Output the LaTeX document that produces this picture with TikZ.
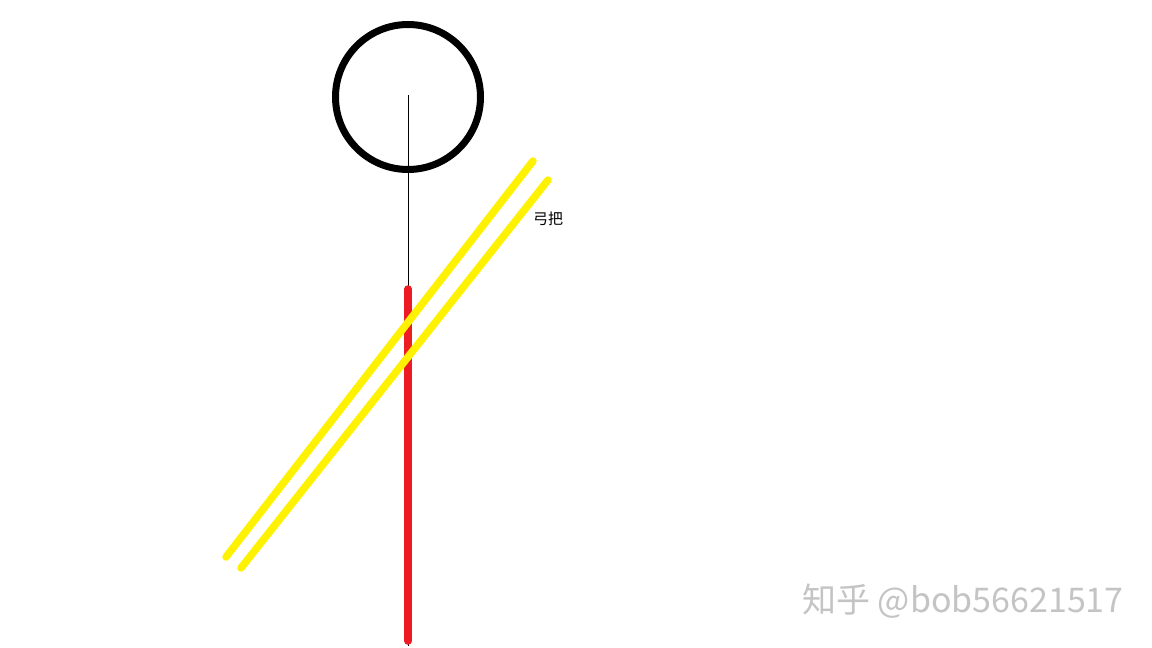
\documentclass[tikz,border=0pt]{standalone}
\usepackage{fontspec}
\newfontfamily\cjk{Noto Sans CJK SC}
\definecolor{paintred}{HTML}{ED1C24}
\definecolor{paintyellow}{HTML}{FFF200}
\definecolor{wmgray}{HTML}{C4C4C4}
\begin{document}
\begin{tikzpicture}[x=1pt,y=-1pt,
  headstyle/.style={circle,draw=black,line width=7pt,inner sep=0pt,minimum size=145pt},
  thinline/.style={draw=black,line width=0.8pt},
  redbar/.style={draw=paintred,line width=7.5pt,line cap=round},
  yellowbar/.style={draw=paintyellow,line width=7.5pt,line cap=round},
  labelstyle/.style={font=\cjk\fontsize{15}{17}\selectfont,text=black,inner sep=0pt},
  wmstyle/.style={font=\cjk\fontsize{34}{40}\selectfont,text=wmgray,inner sep=0pt}]
\useasboundingbox (0,0) rectangle (1152,648);
\fill[white] (0,0) rectangle (1152,648);
\node[headstyle] (head) at (408,97) {};
\coordinate (top) at (408,95);
\coordinate (bottom) at (408,646);
\coordinate (redtop) at (408,289);
\coordinate (redbot) at (408,641);
\coordinate (ya) at (226,557);
\coordinate (yb) at (533,161);
\coordinate (yc) at (241,568);
\coordinate (yd) at (548,180);
\draw[thinline] (top) -- (bottom);
\draw[redbar] (redtop) -- (redbot);
\draw[yellowbar] (ya) -- (yb);
\draw[yellowbar] (yc) -- (yd);
\node[labelstyle] (label) at (548,219) {弓把};
\node[wmstyle] (wm) at (963,601) {知乎 @bob56621517};
\end{tikzpicture}
\end{document}
